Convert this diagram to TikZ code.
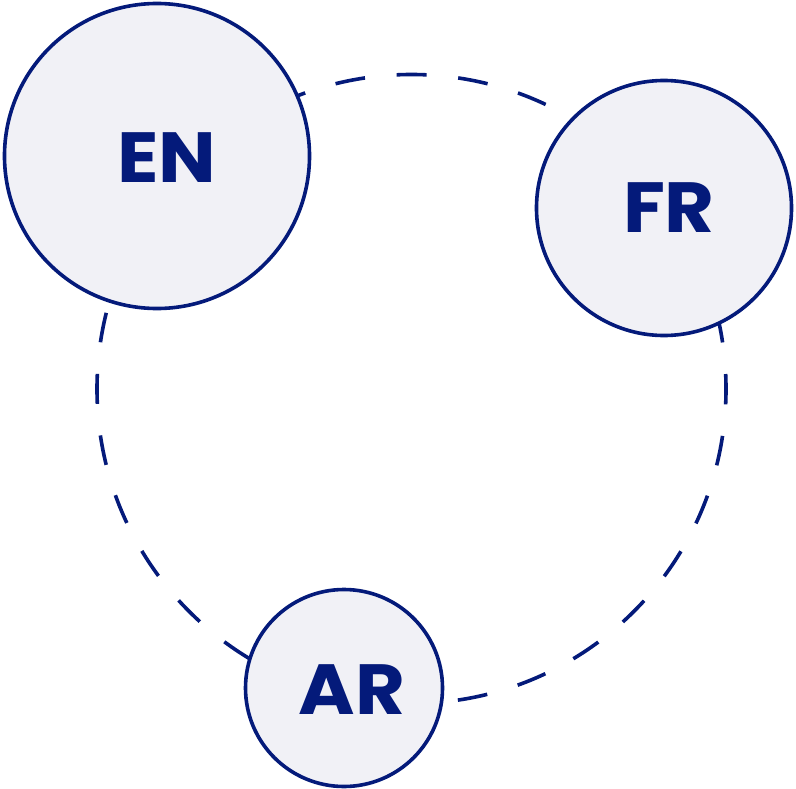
\documentclass[tikz,border=0pt]{standalone}
\usepackage{fontspec}
\setmainfont{Poppins}
\usepackage{xcolor}
\usepackage{graphicx}
\usepackage{tikz}
\usetikzlibrary{positioning}

\definecolor{navy}{RGB}{4,26,122}
\definecolor{paleblue}{RGB}{241,241,246}

\newcommand{\langname}[1]{\scalebox{1.08}[1]{#1}}

\tikzset{
    langball/.style={circle, draw=navy, line width=3.6bp, fill=paleblue, inner sep=0pt},
    langtext/.style={text=navy, font=\fontsize{71bp}{71bp}\selectfont\bfseries, inner sep=0pt, text depth=0pt}
}

\begin{document}
\begin{tikzpicture}[x=1bp, y=-1bp]
    % Rahmen
    \useasboundingbox[fill=white] (0,0) rectangle (796,789);

    % gestrichelter Ring
    \coordinate (mid) at (411.5,389);
    \draw[navy, line width=3.6bp, dash pattern=on 30bp off 31.75bp, dash phase=15bp]
        (mid) circle[radius=314.5bp];

    % Sprachen
    \node[langball, minimum size=305bp] (en) at (157,156) {};
    \node[langball, minimum size=255bp] (fr) at (664,208) {};
    \node[langball, minimum size=197bp] (ar) at (344,688) {};

    \node[langtext] (entext) at (167,157.5) {\langname{EN}};
    \node[langtext] (frtext) at (669,207.5) {\langname{FR}};
    \node[langtext] (artext) at (352,690) {\langname{AR}};
\end{tikzpicture}
\end{document}
